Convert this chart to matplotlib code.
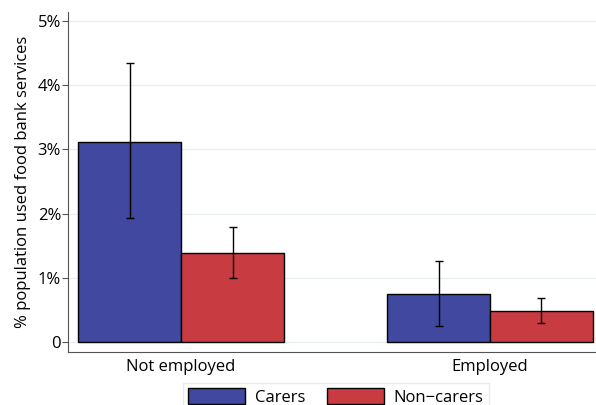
import numpy as np
import matplotlib
matplotlib.use('Agg')
import matplotlib.pyplot as plt
from matplotlib.patches import Patch

groups = ["Not employed", "Employed"]
series = ["Carers", "Non\u2212carers"]
values = {"Carers": [3.12, 0.75], "Non\u2212carers": [1.39, 0.48]}
lower = {"Carers": [1.93, 0.25], "Non\u2212carers": [1.00, 0.30]}
upper = {"Carers": [4.35, 1.26], "Non\u2212carers": [1.79, 0.69]}
colors = {"Carers": "#4048A0", "Non\u2212carers": "#C83C41"}
yticks = [0, 1, 2, 3, 4, 5]
ylabels = ["0", "1%", "2%", "3%", "4%", "5%"]

plt.rcParams['font.family'] = ['Open Sans', 'DejaVu Sans']
fs = 12

fig = plt.figure(figsize=(5.96, 4.05), dpi=100)
ax = fig.add_axes([68/596, 1 - 352/405, 528/596, 340/405])

x = np.arange(len(groups))
w = 0.333
for i, s in enumerate(series):
    pos = x + (i - 0.5) * w
    v = np.array(values[s])
    err = np.array([v - np.array(lower[s]), np.array(upper[s]) - v])
    ax.bar(pos, v, w, color=colors[s], edgecolor="black", linewidth=1.0, zorder=2)
    ax.errorbar(pos, v, yerr=err, fmt="none", ecolor="black", elinewidth=1.0,
                capsize=3.2, capthick=1.0, zorder=3)

ax.set_xlim(-0.366, 1.343)
ax.set_ylim(-0.156, 5.14)
ax.set_yticks(yticks)
ax.set_yticklabels(ylabels, fontsize=fs)
ax.set_xticks(x)
ax.set_xticklabels(groups, fontsize=fs)
ax.tick_params(axis="x", length=0, pad=5)
ax.tick_params(axis="y", length=4, pad=1, color="#555555")
ax.yaxis.grid(True, color="#E8F0F2", linewidth=1.0, zorder=0)
ax.set_axisbelow(True)
ax.spines["top"].set_visible(False)
ax.spines["right"].set_visible(False)
ax.spines["left"].set_color("#555555")
ax.spines["bottom"].set_color("#555555")
ax.set_ylabel("% population used food bank services", fontsize=fs, labelpad=5)

handles = [Patch(facecolor=colors[s], edgecolor="black", linewidth=1.0) for s in series]
leg = fig.legend(handles, series, loc="upper center", bbox_to_anchor=(336/596, 1 - 383/405),
                 ncol=2, frameon=True, fontsize=fs, handlelength=3.4, handleheight=1.1,
                 handletextpad=0.6, columnspacing=1.3, borderpad=0.3,
                 borderaxespad=0, fancybox=False)
leg.get_frame().set_edgecolor("#E0E6EA")
leg.get_frame().set_linewidth(1.0)

fig.savefig("out.png", dpi=100)
